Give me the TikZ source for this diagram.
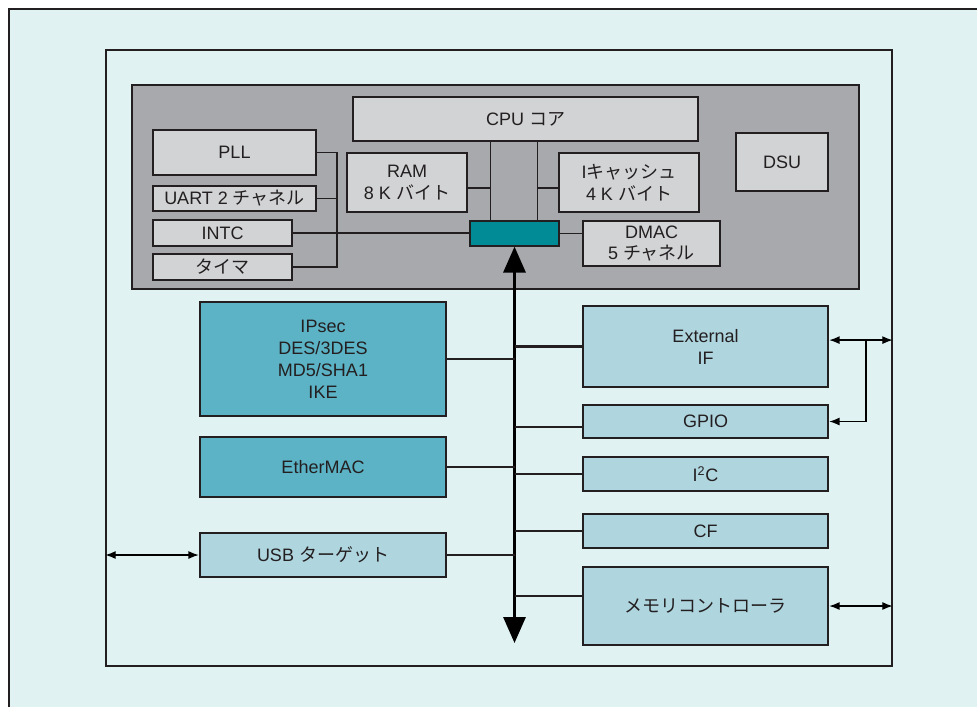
\documentclass[tikz,border=0pt]{standalone}
\usepackage{fontspec}
\setmainfont{Liberation Sans}
\newfontfamily\jpfont{Noto Sans CJK JP}
\usepackage{tikz}
\usetikzlibrary{
        arrows.meta,
        fit,
        positioning
    }
\definecolor{ink}{HTML}{231F20}
\definecolor{bgcyan}{HTML}{E0F2F2}
\definecolor{coregrey}{HTML}{A8A9AD}
\definecolor{lightgrey}{HTML}{D1D3D4}
\definecolor{bridgeteal}{HTML}{008B96}
\definecolor{ipteal}{HTML}{5CB3C6}
\definecolor{ioblue}{HTML}{AFD5DF}
\newcommand{\jp}[1]{{\jpfont #1}}
\tikzset{>={Latex[length=2.6mm,width=2mm]},node distance=1cm}
\tikzset{
    txt/.style={inner sep=0pt,align=center,text=ink,
        font=\fontsize{12.8}{15.6}\selectfont},
    blk/.style={draw=ink,line width=1.7pt,inner sep=0pt},
    grey box/.style={blk,fill=lightgrey},
    ip box/.style={blk,fill=ipteal},
    io box/.style={blk,fill=ioblue},
    wire/.style={draw=ink,line width=0.9pt},
    busbr/.style={draw=ink,line width=1.5pt},
    link/.style={draw=black,line width=0.9pt,<->},
    bus/.style={draw=black,line width=2.2pt,
        {Triangle[length=6.5mm,width=5.5mm]}-{Triangle[length=6.5mm,width=5.5mm]}}
}

\begin{document}
\begin{tikzpicture}[x=0.025cm,y=-0.025cm]
                \useasboundingbox (0,0) rectangle (977,706);
                \fill[white] (0,0) rectangle (977,706);
                \draw[fill=bgcyan,draw=ink,line width=0.8pt] (9,9) rectangle (990,720);
                % chip and core block
                \node[draw=ink,line width=1pt,inner sep=0pt,fit={(106,50) (892,666)}] (chip) {};
                \node[draw=ink,line width=0.8pt,fill=coregrey,inner sep=0pt,fit={(132,85) (859,289)}] (coreblk) {};
                \node[grey box,fit={(353,97) (698,141)},label={[txt]center:CPU \jp{コア}}] (cpu) {};
                \node[grey box,fit={(153,130) (316,175)},label={[txt]center:PLL}] (pll) {};
                \node[grey box,fit={(153,186) (316,211)},label={[txt]center:UART 2 \jp{チャネル}}] (uart) {};
                \node[grey box,fit={(153,220) (292,246)},label={[txt]center:INTC}] (intc) {};
                \node[grey box,fit={(153,254) (292,280)},label={[txt]center:\jp{タイマ}}] (timer) {};
                \node[grey box,fit={(347,153) (467,212)},label={[txt]center:RAM\\8 K \jp{バイト}}] (ram) {};
                \node[grey box,fit={(559,153) (699,212)},label={[txt]center:I\jp{キャッシュ}\\4 K \jp{バイト}}] (icache) {};
                \node[grey box,fit={(736,133) (828,191)},label={[txt]center:DSU}] (dsu) {};
                \node[grey box,fit={(583,221) (720,266)},label={[txt]center:DMAC\\5 \jp{チャネル}}] (dmac) {};
                \node[draw=ink,line width=0.8pt,fill=bridgeteal,inner sep=0pt,fit={(470,221) (559,246)}] (bridge) {};
                % peripherals
                \node[ip box,fit={(200,302) (446,416)},label={[txt]center:IPsec\\DES/3DES\\MD5/SHA1\\IKE}] (ipsec) {};
                \node[ip box,fit={(200,437) (446,497)},label={[txt]center:EtherMAC}] (ether) {};
                \node[io box,fit={(200,533) (446,577)},label={[txt]center:USB \jp{ターゲット}}] (usb) {};
                \node[io box,fit={(583,306) (828,387)},label={[txt]center:External\\IF}] (extif) {};
                \node[io box,fit={(583,405) (828,438)},label={[txt]center:GPIO}] (gpio) {};
                \node[io box,fit={(583,457) (828,491)},label={[txt]center:I\textsuperscript{2}C}] (iic) {};
                \node[io box,fit={(583,514) (828,548)},label={[txt]center:CF}] (cf) {};
                \node[io box,fit={(583,567) (828,645)},label={[txt]center:\jp{メモリコントローラ}}] (memc) {};

                % core wiring
                \coordinate (bl) at ([xshift=-6mm]bridge.north);
                \coordinate (br) at ([xshift=5.7mm]bridge.north);
                \coordinate (pj) at (337,233);
                \draw[wire] (bl) -- (bl |- cpu.south);
                \draw[wire] (br) -- (br |- cpu.south);
                \draw[wire] ([yshift=-1.4mm]ram.east) -- ([yshift=-1.4mm]ram.east -| bl);
                \draw[wire] ([yshift=-1.4mm]icache.west) -- ([yshift=-1.4mm]icache.west -| br);
                \draw[wire] (intc.east) -- (intc.east -| bridge.west);
                \draw[wire] (bridge.east) -- (bridge.east -| dmac.west);
                \draw[wire] (pll.east) -| (pj) |- (timer.east);
                \draw[wire] (uart.east) -- (uart.east -| pj);

                % system bus
                \coordinate (busend) at (514.5,643);
                \draw[bus] (bridge.south) -- (busend);
                \draw[busbr] (ipsec.east) -- (ipsec.east -| busend);
                \draw[busbr] (ether.east) -- (ether.east -| busend);
                \draw[busbr] (usb.east) -- (usb.east -| busend);
                \draw[busbr] (extif.west) -- (extif.west -| busend);
                \draw[busbr] ([yshift=-1.3mm]gpio.west) -- ([yshift=-1.3mm]gpio.west -| busend);
                \draw[busbr] (iic.west) -- (iic.west -| busend);
                \draw[busbr] (cf.west) -- (cf.west -| busend);
                \draw[busbr] ([yshift=2.5mm]memc.west) -- ([yshift=2.5mm]memc.west -| busend);

                % external pins
                \coordinate (split) at ([yshift=1.6mm,xshift=9.2mm]extif.east);
                \draw[link] ([yshift=1.6mm]extif.east) -- ([yshift=1.6mm]extif.east -| chip.east);
                \draw[link,<-] (gpio.east) -| (split);
                \draw[link] (usb.west -| chip.west) -- (usb.west);
                \draw[link] (memc.east) -- (memc.east -| chip.east);
            \end{tikzpicture}
\end{document}
